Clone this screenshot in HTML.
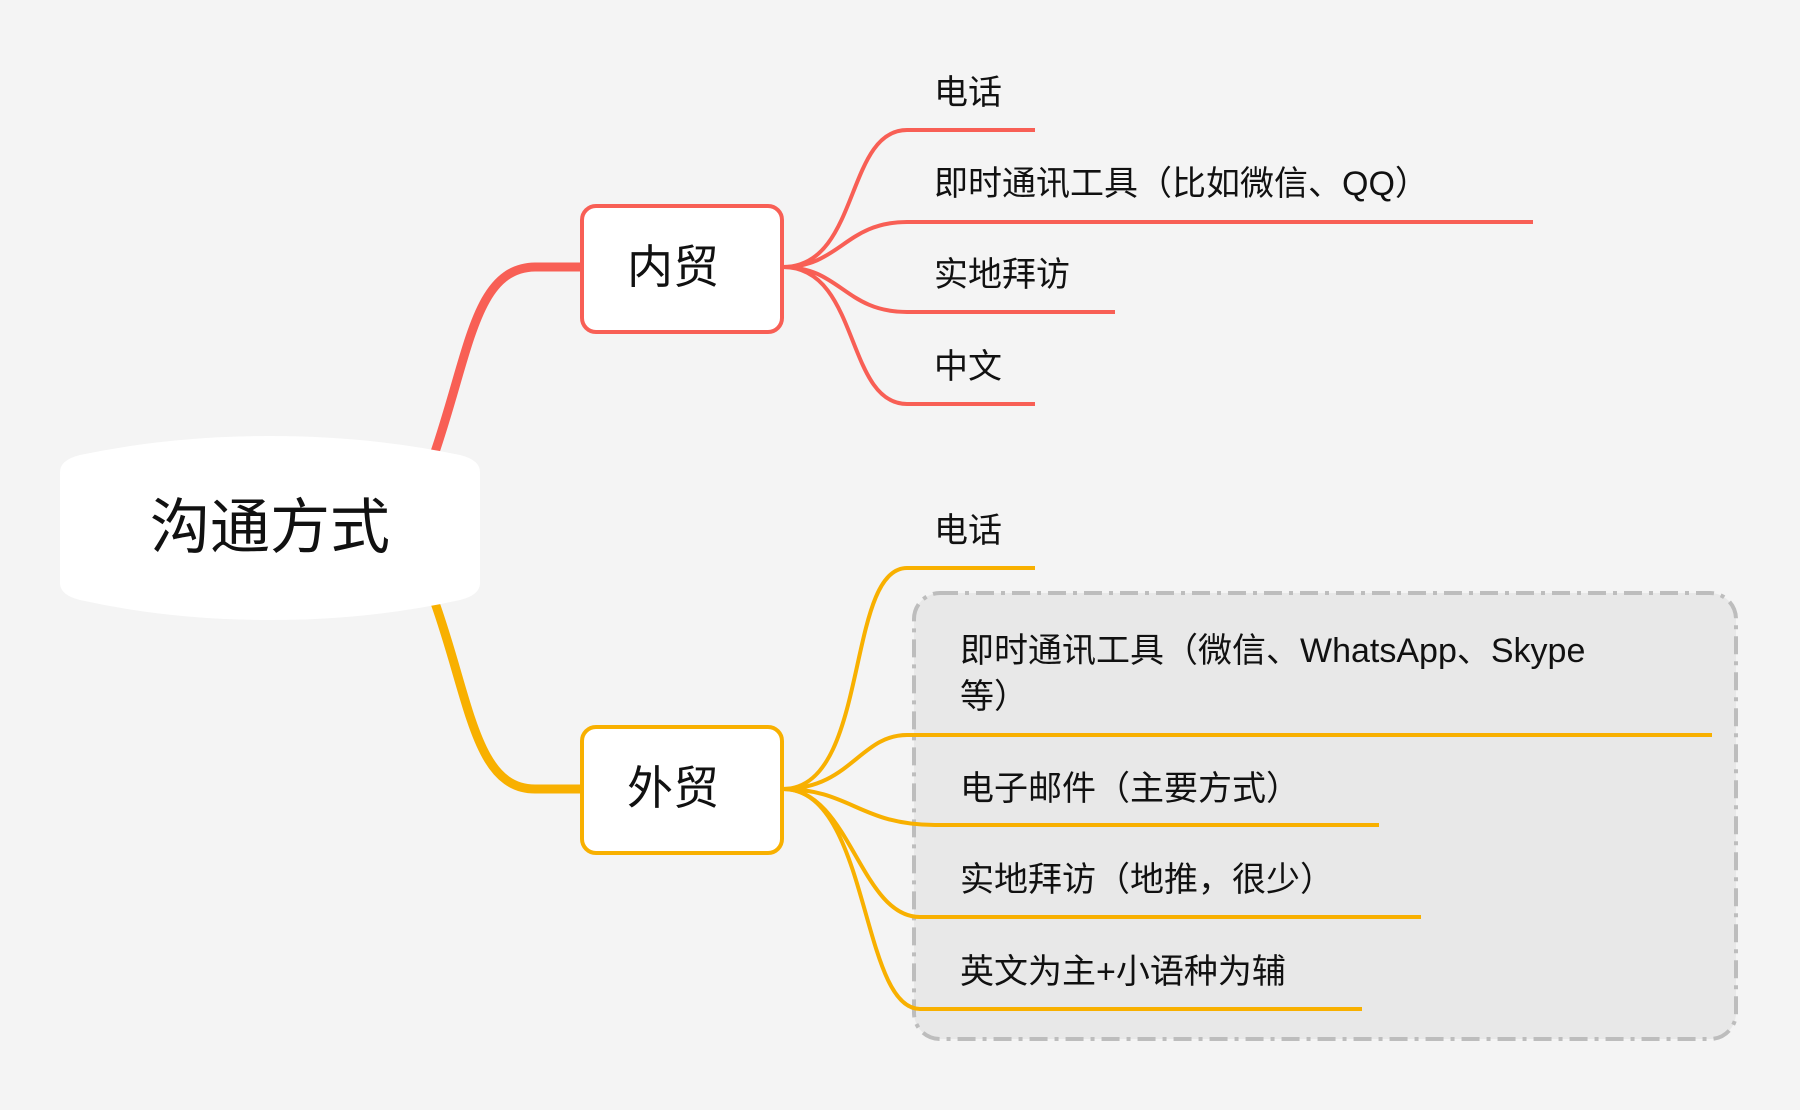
<!DOCTYPE html>
<html><head><meta charset="utf-8"><style>
html,body{margin:0;padding:0;background:#f4f4f4;}
svg{display:block}
text{font-family:"Liberation Sans","Noto Sans CJK SC",sans-serif;fill:#111;}
</style></head><body>
<svg width="1800" height="1110" viewBox="0 0 1800 1110" xmlns="http://www.w3.org/2000/svg">
<rect width="1800" height="1110" fill="#f4f4f4"/>
<rect x="914" y="593" width="822" height="446" rx="26" fill="#e8e8e8" stroke="#bdbdbd" stroke-width="4" stroke-dasharray="18,7,4,7"/>
<path d="M434 455 C 470 350, 475 268, 535 267 L581 267" fill="none" stroke="#f85f55" stroke-width="9"/>
<path d="M434 600 C 470 700, 475 789, 535 789 L581 789" fill="none" stroke="#f8b000" stroke-width="9"/>
<g fill="none" stroke="#f85f55" stroke-width="4">
<path d="M783 267 C 860 267, 845 130, 907 130 L1035 130"/>
<path d="M783 267 C 840 267, 845 222, 907 222 L1533 222"/>
<path d="M783 267 C 840 267, 845 312, 907 312 L1115 312"/>
<path d="M783 267 C 860 267, 845 404, 907 404 L1035 404"/>
</g>
<g fill="none" stroke="#f8b000" stroke-width="4">
<path d="M783 789 C 870 789, 845 568, 907 568 L1035 568"/>
<path d="M783 789 C 850 789, 860 735, 907 735 L1712 735"/>
<path d="M783 789 C 850 789, 860 825, 935 825 L1379 825"/>
<path d="M783 789 C 850 789, 860 917, 920 917 L1421 917"/>
<path d="M783 789 C 870 789, 860 1009, 920 1009 L1362 1009"/>
</g>
<path d="M60 472 Q60 460 80 455 Q170 436 270 436 Q370 436 460 455 Q480 460 480 472 L480 583 Q480 595 460 600 Q370 620 270 620 Q170 620 80 600 Q60 595 60 583 Z" fill="#fff"/>
<text x="270" y="548" font-size="60" text-anchor="middle">沟通方式</text>
<rect x="582" y="206" width="200" height="126" rx="14" fill="#fff" stroke="#f85f55" stroke-width="4"/>
<text x="673" y="283" font-size="46" text-anchor="middle">内贸</text>
<rect x="582" y="727" width="200" height="126" rx="14" fill="#fff" stroke="#f8b000" stroke-width="4"/>
<text x="673" y="804" font-size="46" text-anchor="middle">外贸</text>
<g font-size="34">
<text x="934" y="104">电话</text>
<text x="934" y="195">即时通讯工具（比如微信、QQ）</text>
<text x="934" y="286">实地拜访</text>
<text x="934" y="378">中文</text>
<text x="934" y="542">电话</text>
<text x="960" y="662">即时通讯工具（微信、WhatsApp、Skype</text>
<text x="960" y="708">等）</text>
<text x="960" y="800">电子邮件（主要方式）</text>
<text x="960" y="891">实地拜访（地推，很少）</text>
<text x="960" y="983">英文为主+小语种为辅</text>
</g>
</svg>
</body></html>
